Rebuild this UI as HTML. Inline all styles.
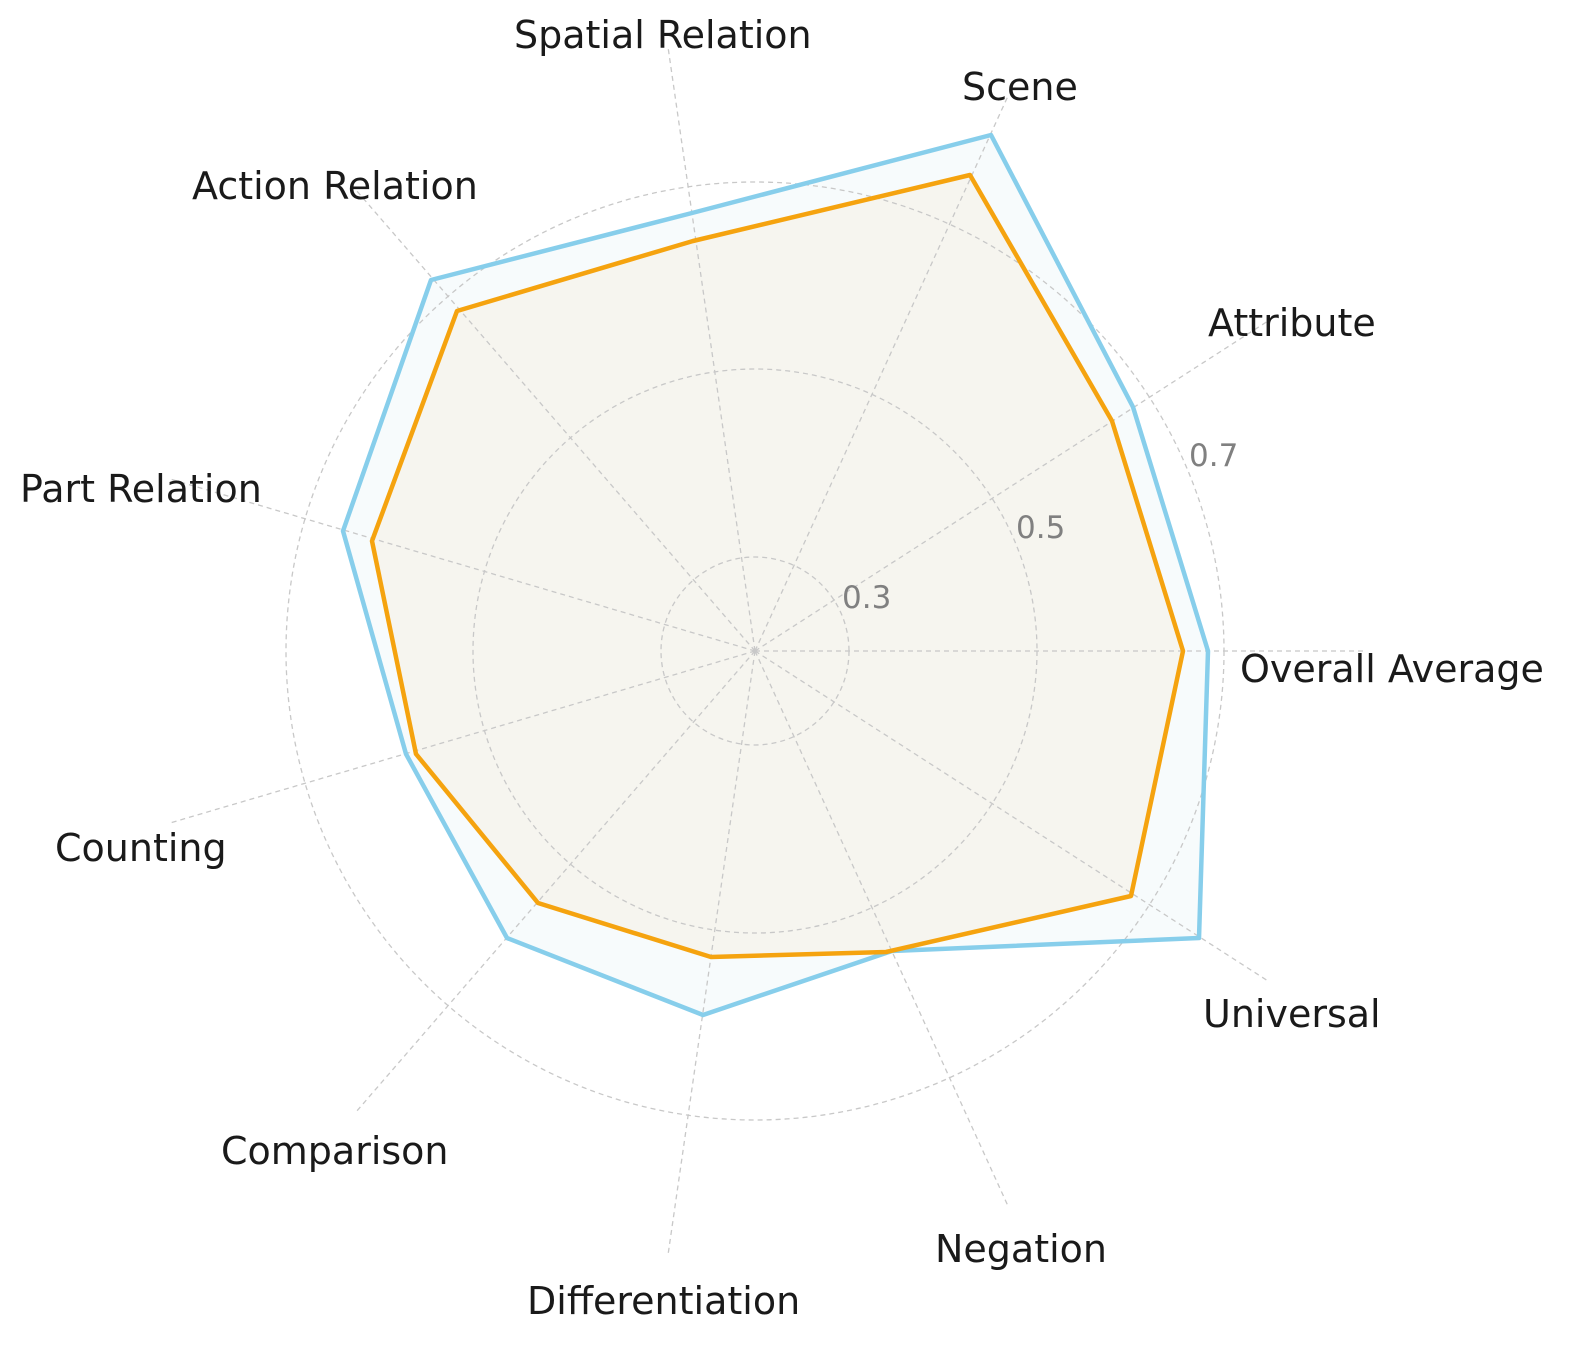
<!DOCTYPE html>
<html><head><meta charset="utf-8"><style>body{margin:0;background:#fff}svg{display:block}</style></head>
<body>
<svg width="1583" height="1355" viewBox="0 0 1583 1355" xmlns="http://www.w3.org/2000/svg" font-family="'DejaVu Sans', 'Liberation Sans', sans-serif">
<polygon points="1208,651 1133,407 991,135 692,213 431,280 343,531 406,754 507,938 703,1015 892,951 1199,938" fill="#f7fbfc" stroke="none"/>
<polygon points="1183,651 1112,421 970,175 693,241 457,311 372,541 416,754 538,903 711,957 886,952 1131,896" fill="#f6f5ef" stroke="none"/>
<g fill="none" stroke="#c8c8c8" stroke-width="1.3" stroke-dasharray="5,4">
<circle cx="755" cy="651" r="94"/>
<circle cx="755" cy="651" r="282"/>
<circle cx="755" cy="651" r="469"/>
<line x1="755" y1="651" x2="1365" y2="651"/>
<line x1="755" y1="651" x2="1268" y2="321"/>
<line x1="755" y1="651" x2="1008" y2="96"/>
<line x1="755" y1="651" x2="668" y2="47"/>
<line x1="755" y1="651" x2="356" y2="190"/>
<line x1="755" y1="651" x2="170" y2="479"/>
<line x1="755" y1="651" x2="170" y2="823"/>
<line x1="755" y1="651" x2="356" y2="1112"/>
<line x1="755" y1="651" x2="668" y2="1255"/>
<line x1="755" y1="651" x2="1008" y2="1206"/>
<line x1="755" y1="651" x2="1268" y2="981"/>
</g>
<polygon points="1208,651 1133,407 991,135 692,213 431,280 343,531 406,754 507,938 703,1015 892,951 1199,938" fill="none" stroke="#87ceeb" stroke-width="4.5" stroke-linejoin="round"/>
<polygon points="1183,651 1112,421 970,175 693,241 457,311 372,541 416,754 538,903 711,957 886,952 1131,896" fill="none" stroke="#f5a30f" stroke-width="4.5" stroke-linejoin="round"/>
<g fill="#808080" font-size="31">
<text x="842" y="608">0.3</text>
<text x="1016" y="538">0.5</text>
<text x="1189" y="466">0.7</text>
</g>
<g fill="#1a1a1a" font-size="38">
<text x="1240" y="682">Overall Average</text>
<text x="1208" y="336">Attribute</text>
<text x="962" y="100">Scene</text>
<text x="514" y="48">Spatial Relation</text>
<text x="192" y="199">Action Relation</text>
<text x="20" y="502">Part Relation</text>
<text x="55" y="861">Counting</text>
<text x="221" y="1164">Comparison</text>
<text x="527" y="1314">Differentiation</text>
<text x="935" y="1262">Negation</text>
<text x="1203" y="1027">Universal</text>
</g>
</svg>
</body></html>
